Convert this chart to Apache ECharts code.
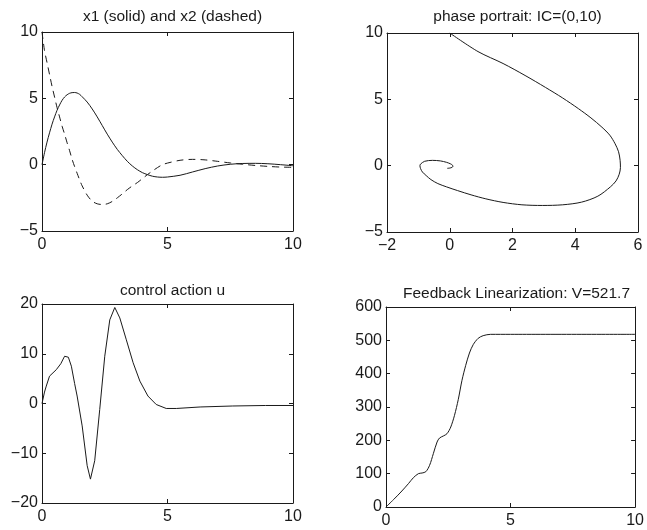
<!DOCTYPE html>
<html>
<head>
<meta charset="utf-8">
<script src="https://cdn.jsdelivr.net/npm/echarts@6/dist/echarts.min.js"></script>
<style>
  html, body { margin: 0; padding: 0; background: #fff; }
  #main { width: 647px; height: 530px; }
</style>
</head>
<body>
<div id="main"></div>
<script>
// time samples for the states
const t = [0, 0.1, 0.2, 0.3, 0.4, 0.5, 0.6, 0.7, 0.8, 0.9, 1.0, 1.1, 1.2, 1.3, 1.4, 1.5, 1.6, 1.8, 2.0, 2.2, 2.4, 2.6, 2.8, 3.0, 3.2, 3.4, 3.6, 3.8, 4.0, 4.2, 4.4, 4.6, 4.8, 5.0, 5.5, 6.0, 6.5, 7.0, 7.5, 8.0, 8.5, 9.0, 9.5, 10];
// x1 (solid)
const x1 = [0, 0.9, 1.7, 2.4, 3.05, 3.6, 4.1, 4.5, 4.85, 5.1, 5.27, 5.38, 5.43, 5.44, 5.4, 5.3, 5.12, 4.72, 4.2, 3.6, 2.95, 2.3, 1.7, 1.15, 0.68, 0.25, -0.1, -0.38, -0.6, -0.75, -0.87, -0.93, -0.95, -0.93, -0.8, -0.55, -0.3, -0.1, 0.03, 0.09, 0.1, 0.07, 0.0, -0.08];
// x2 (dashed)
const x2 = [10, 8.6, 7.7, 6.8, 5.9, 5.1, 4.3, 3.6, 2.9, 2.3, 1.65, 1.05, 0.4, -0.15, -0.65, -1.15, -1.6, -2.3, -2.75, -2.95, -3.0, -2.95, -2.77, -2.5, -2.2, -1.88, -1.6, -1.35, -1.05, -0.75, -0.48, -0.22, 0.0, 0.12, 0.33, 0.4, 0.36, 0.25, 0.13, 0.03, -0.06, -0.13, -0.18, -0.2];

// control action u
const uT = [0, 0.1, 0.17, 0.3, 0.57, 0.75, 0.9, 0.95, 1.05, 1.17, 1.3, 1.4, 1.6, 1.8, 1.93, 2.1, 2.3, 2.5, 2.7, 2.9, 3.1, 3.36, 3.63, 3.9, 4.22, 4.55, 4.95, 5.35, 6.3, 7.6, 8.9, 10];
const u = [0, 2.3, 3.5, 5.5, 6.8, 8.0, 9.5, 9.7, 9.3, 7.5, 4.0, 1.5, -4.5, -12.5, -15.2, -11.5, -1.2, 9.5, 16.8, 19.3, 17.2, 12.8, 8.2, 4.5, 1.5, -0.2, -1.0, -1.0, -0.7, -0.5, -0.4, -0.4];

// accumulated cost V
const vT = [0, 0.3, 0.6, 0.9, 1.1, 1.3, 1.45, 1.6, 1.75, 1.9, 2.05, 2.15, 2.3, 2.45, 2.6, 2.75, 2.9, 3.05, 3.2, 3.35, 3.5, 3.7, 3.9, 4.2, 5, 10];
const v = [0, 22, 45, 70, 88, 100, 102, 106, 125, 160, 195, 207, 213, 220, 240, 275, 322, 380, 425, 462, 487, 506, 514, 518, 518, 518];

const titles = ['x1 (solid) and x2 (dashed)', 'phase portrait: IC=(0,10)', 'control action u', 'Feedback Linearization: V=521.7'];

const font = "'Liberation Sans', Arial, Helvetica, sans-serif";
const ink = '#1a1a1a';

const pairs = (xs, ys) => xs.map((x, i) => [x, ys[i]]);
const minus = (val) => String(val).replace('-', '\u2212');

const grids = [
    { left: 42, top: 32, width: 251, height: 199 },
    { left: 387, top: 33, width: 251, height: 199 },
    { left: 42, top: 304, width: 251, height: 199 },
    { left: 386, top: 307, width: 251, height: 200 }
];
// [xmin, xmax, xstep, ymin, ymax, ystep]
const ranges = [
    [0, 10, 5, -5, 10, 5],
    [-2, 6, 2, -5, 10, 5],
    [0, 10, 5, -20, 20, 10],
    [0, 10, 5, 0, 600, 100]
];

const xAxes = [];
const yAxes = [];
ranges.forEach((r, g) => {
    const base = {
        type: 'value',
        gridIndex: g,
        splitLine: { show: false },
        axisLine: { show: true, onZero: false, lineStyle: { color: ink, width: 1 } },
        axisTick: { show: true, inside: true, length: 4, lineStyle: { color: ink } }
    };
    const lab = { show: true, color: ink, fontSize: 16, fontFamily: font, formatter: minus };
    xAxes.push(Object.assign({}, base, { position: 'bottom', min: r[0], max: r[1], interval: r[2], axisLabel: Object.assign({ margin: 6 }, lab) }));
    xAxes.push(Object.assign({}, base, { position: 'top', min: r[0], max: r[1], interval: r[2], axisLabel: { show: false } }));
    yAxes.push(Object.assign({}, base, { position: 'left', min: r[3], max: r[4], interval: r[5], axisLabel: Object.assign({ margin: 4 }, lab) }));
    yAxes.push(Object.assign({}, base, { position: 'right', min: r[3], max: r[4], interval: r[5], axisLabel: { show: false } }));
});

const line = (g, data, extra) => Object.assign({
    type: 'line',
    xAxisIndex: g * 2,
    yAxisIndex: g * 2,
    data: data,
    showSymbol: false,
    symbol: 'none',
    lineStyle: { color: ink, width: 1 },
    animation: false
}, extra || {});

const option = {
    backgroundColor: '#fff',
    animation: false,
    title: titles.map((txt, g) => ({
        text: txt,
        left: grids[g].left + grids[g].width / 2,
        top: g < 2 ? 4 : (g === 2 ? 278 : 281),
        textAlign: 'center',
        textStyle: { color: ink, fontSize: 15.5, fontWeight: 'normal', fontFamily: font }
    })),
    grid: grids,
    xAxis: xAxes,
    yAxis: yAxes,
    series: [
        line(0, pairs(t, x1), { smooth: 0.3 }),
        line(0, pairs(t, x2), { smooth: 0.3, lineStyle: { color: ink, width: 1, type: [7, 5] } }),
        line(1, pairs(x1, x2), { smooth: 0.3 }),
        line(2, pairs(uT, u)),
        line(3, pairs(vT, v), { smooth: 0.3 })
    ]
};

const chart = echarts.init(document.getElementById('main'));
chart.setOption(option);
</script>
</body>
</html>
